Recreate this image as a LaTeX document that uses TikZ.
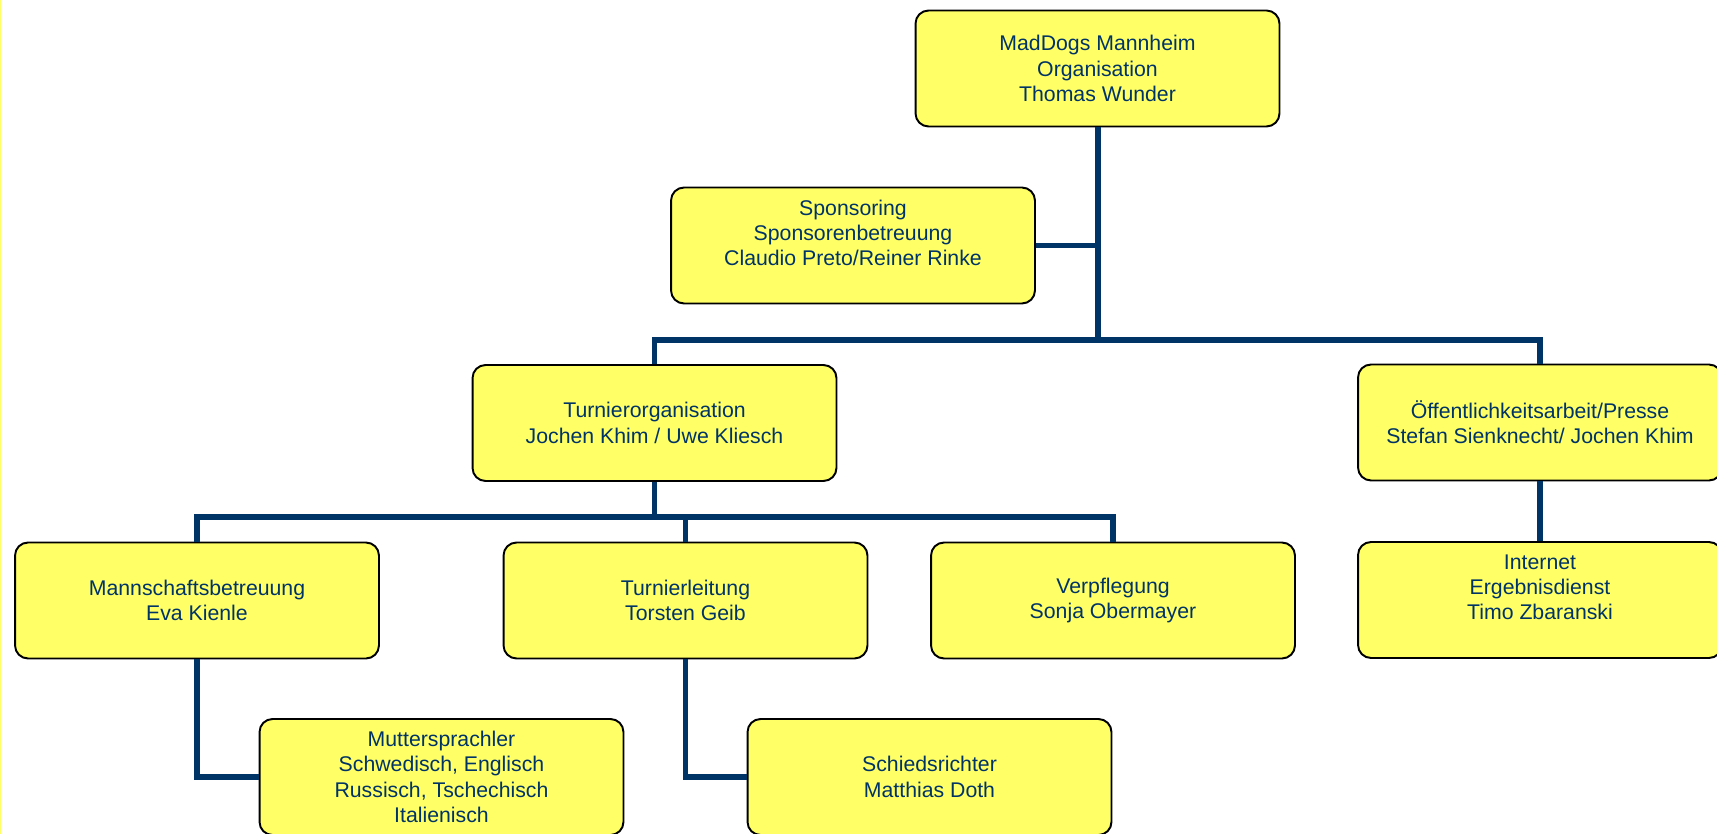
\documentclass[tikz,border=0pt]{standalone}
\usepackage{fontspec}
\setmainfont{Liberation Sans}
\definecolor{gelb}{HTML}{FFFF66}
\definecolor{marine}{HTML}{003366}
\tikzset{
  box/.style={draw=black, line width=1.1pt, fill=gelb, rounded corners=0.26cm,
    minimum width=7.28cm, minimum height=2.32cm, inner sep=0pt, align=center,
    text=marine, font=\fontsize{12.1}{14.4}\selectfont},
  linie/.style={draw=marine, line width=3.4pt}
}
\begin{document}
\begin{tikzpicture}[x=0.02cm, y=-0.02cm]
  % Rahmen
  \useasboundingbox (0,0) rectangle (1717,834);
  \fill[gelb] (0,0) rectangle (1.5,834);

  % Verzweigungspunkte
  \coordinate (knoten1) at (1097.5,340);
  \coordinate (knoten2) at (654.5,517);

  % Organigramm
  \node[box] (leitung) at (1097.5,68.5) {MadDogs Mannheim\\Organisation\\Thomas Wunder};
  \node[box] (sponsor) at (853,245.5) {Sponsoring\\Sponsorenbetreuung\\Claudio Preto/Reiner Rinke\\\mbox{}};
  \node[box] (turnier) at (654.5,423) {Turnierorganisation\\Jochen Khim / Uwe Kliesch};
  \node[box] (presse) at (1540,422.5) {Öffentlichkeitsarbeit/Presse\\Stefan Sienknecht/ Jochen Khim};
  \node[box] (mannschaft) at (197,600.5) {Mannschaftsbetreuung\\Eva Kienle};
  \node[box] (tleitung) at (685.5,600.5) {Turnierleitung\\Torsten Geib};
  \node[box] (verpflegung) at (1113,600.5) {Verpflegung\\Sonja Obermayer};
  \node[box] (internet) at (1540,600) {Internet\\Ergebnisdienst\\Timo Zbaranski\\\mbox{}};
  \node[box] (sprachen) at (441.5,777) {Muttersprachler\\Schwedisch, Englisch\\Russisch, Tschechisch\\Italienisch};
  \node[box] (schiri) at (929.5,777) {Schiedsrichter\\Matthias Doth};

  % Verbindungen
  \draw[linie] (leitung.south) -- (knoten1);
  \draw[linie] (sponsor.east) -- (sponsor.east -| knoten1);
  \draw[linie] (turnier.north) |- (knoten1) -| (presse.north);
  \draw[linie] (turnier.south) -- (knoten2);
  \draw[linie] (mannschaft.north) |- (knoten2) -| (verpflegung.north);
  \draw[linie] (tleitung.north) -- (tleitung.north |- knoten2);
  \draw[linie] (presse.south) -- (internet.north);
  \draw[linie] (mannschaft.south) |- (sprachen.west);
  \draw[linie] (tleitung.south) |- (schiri.west);
\end{tikzpicture}
\end{document}
